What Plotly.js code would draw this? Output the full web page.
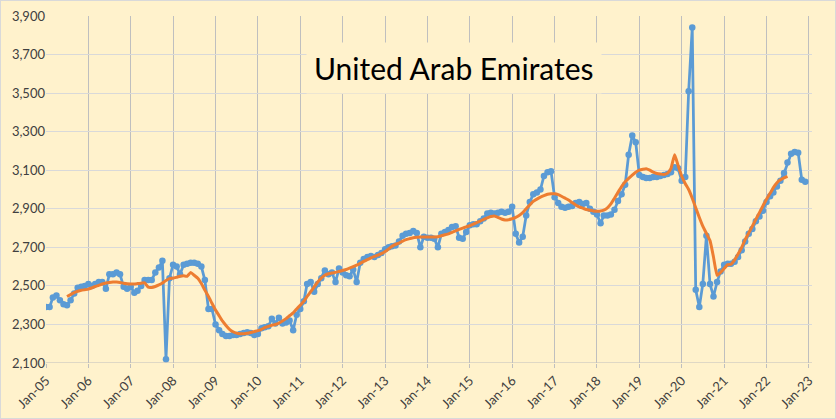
<!DOCTYPE html>
<html>
<head>
<meta charset="utf-8">
<script src="https://cdn.plot.ly/plotly-3.0.1.min.js"></script>
<style>
  html, body { margin: 0; padding: 0; background: #FFF2CC; }
  #wrap { position: relative; width: 836px; height: 419px; }
  #chart { width: 836px; height: 419px; }
  #frame { position: absolute; left: 0; top: 0; width: 836px; height: 419px; box-sizing: border-box; border: 1px solid #D9D9D9; pointer-events: none; }
</style>
</head>
<body>
<div id="wrap"><div id="chart"></div><div id="frame"></div></div>
<script>
// Monthly crude production, kb/d, Jan-2005 .. Dec-2022
const startYear = 2005;
const prod2005 = [2390, 2390, 2440, 2450, 2425, 2405, 2400, 2425, 2460, 2490, 2495, 2500];
const prod2006 = [2510, 2500, 2510, 2520, 2520, 2485, 2560, 2560, 2570, 2560, 2495, 2485];
const prod2007 = [2495, 2465, 2475, 2500, 2530, 2530, 2530, 2570, 2595, 2630, 2120, 2540];
const prod2008 = [2610, 2600, 2560, 2610, 2615, 2620, 2620, 2615, 2600, 2530, 2380, 2380];
const prod2009 = [2300, 2270, 2250, 2240, 2240, 2245, 2245, 2250, 2255, 2260, 2255, 2245];
const prod2010 = [2250, 2280, 2285, 2290, 2330, 2305, 2335, 2305, 2310, 2320, 2270, 2350];
const prod2011 = [2380, 2420, 2510, 2520, 2470, 2510, 2540, 2580, 2560, 2570, 2520, 2590];
const prod2012 = [2570, 2555, 2550, 2585, 2520, 2620, 2640, 2650, 2655, 2650, 2660, 2670];
const prod2013 = [2690, 2700, 2705, 2710, 2730, 2760, 2770, 2775, 2785, 2775, 2700, 2755];
const prod2014 = [2750, 2750, 2745, 2700, 2770, 2780, 2790, 2805, 2810, 2750, 2745, 2780];
const prod2015 = [2815, 2820, 2820, 2835, 2850, 2875, 2880, 2875, 2880, 2885, 2880, 2885];
const prod2016 = [2910, 2770, 2725, 2755, 2865, 2935, 2975, 2985, 3000, 3070, 3090, 3095];
const prod2017 = [2960, 2930, 2910, 2905, 2910, 2915, 2930, 2935, 2925, 2930, 2900, 2885];
const prod2018 = [2870, 2825, 2865, 2865, 2870, 2895, 2940, 2975, 3025, 3180, 3280, 3245];
const prod2019 = [3075, 3065, 3060, 3060, 3065, 3065, 3070, 3075, 3080, 3090, 3115, 3110];
const prod2020 = [3045, 3065, 3510, 3840, 2480, 2390, 2510, 2760, 2510, 2445, 2520, 2575];
const prod2021 = [2610, 2615, 2615, 2625, 2650, 2685, 2730, 2770, 2795, 2835, 2860, 2890];
const prod2022 = [2935, 2965, 2985, 3015, 3045, 3085, 3140, 3185, 3195, 3190, 3050, 3040];

// 12-month average line (orange), Jul-2005 .. Jul-2022
const avgStart = '2005-07-01';
const avgValues = [
  2445, 2455, 2465, 2472, 2477, 2480,
  2483, 2490, 2497, 2503, 2510, 2515, 2518, 2520, 2520, 2518, 2514, 2511,
  2510, 2510, 2512, 2514, 2516, 2493, 2492, 2497, 2505, 2515, 2528, 2538,
  2540, 2545, 2550, 2552, 2550, 2570, 2555, 2540, 2512, 2478, 2445, 2410,
  2375, 2345, 2318, 2295, 2275, 2262, 2255, 2252, 2252, 2254, 2258, 2263,
  2268, 2275, 2283, 2290, 2296, 2300, 2307, 2318, 2330, 2345, 2360, 2380,
  2400, 2420, 2445, 2470, 2495, 2520, 2540, 2555, 2563, 2567, 2570, 2575,
  2580, 2585, 2592, 2600, 2608, 2617, 2627, 2636, 2645, 2653, 2660, 2667,
  2678, 2692, 2705, 2715, 2722, 2732, 2740, 2745, 2750, 2752, 2753, 2753,
  2753, 2753, 2754, 2755, 2760, 2765, 2770, 2778, 2785, 2793, 2800, 2806,
  2812, 2820, 2828, 2836, 2845, 2853, 2860, 2863, 2855, 2847, 2842, 2843,
  2848, 2855, 2865, 2880, 2900, 2920, 2938, 2950, 2960, 2968, 2975, 2978,
  2978, 2973, 2965, 2955, 2945, 2932, 2920, 2910, 2903, 2896, 2892, 2889,
  2887, 2888, 2893, 2905, 2925, 2955, 2985, 3015, 3040, 3058, 3075, 3090,
  3100, 3105, 3108, 3100, 3090, 3083, 3080, 3078, 3085, 3110, 3180, 3125,
  3070, 3030, 3000, 2955, 2905, 2855, 2810, 2772, 2735, 2650, 2555, 2570,
  2590, 2610, 2612, 2635, 2665, 2700, 2740, 2775, 2810, 2845, 2880, 2915,
  2950, 2980, 3010, 3035, 3050, 3060, 3068
];

const yTicks = [2100, 2300, 2500, 2700, 2900, 3100, 3300, 3500, 3700, 3900];
const chartTitle = 'United Arab Emirates';

const production = [].concat(prod2005, prod2006, prod2007, prod2008, prod2009, prod2010,
  prod2011, prod2012, prod2013, prod2014, prod2015, prod2016, prod2017, prod2018,
  prod2019, prod2020, prod2021, prod2022);

function monthDates(startY, startM, n) {
  const out = [];
  for (let i = 0; i < n; i++) {
    const t = startM - 1 + i;
    const y = startY + Math.floor(t / 12);
    const m = (t % 12) + 1;
    out.push(y + '-' + String(m).padStart(2, '0') + '-01');
  }
  return out;
}
const prodDates = monthDates(startYear, 1, production.length);
const avgDates = monthDates(2005, 7, avgValues.length);

const traces = [
  {
    x: prodDates, y: production, type: 'scatter', mode: 'lines+markers',
    line: { color: '#5B9BD5', width: 2.75 },
    marker: { color: '#5B9BD5', size: 6.5 },
    hoverinfo: 'x+y', showlegend: false
  },
  {
    x: avgDates, y: avgValues, type: 'scatter', mode: 'lines',
    line: { color: '#ED7D31', width: 3, shape: 'spline', smoothing: 0.4 },
    hoverinfo: 'x+y', showlegend: false
  }
];

const layout = {
  width: 836, height: 419,
  margin: { l: 46, r: 24, t: 16, b: 56 },
  paper_bgcolor: '#FFF2CC',
  plot_bgcolor: '#FFF2CC',
  font: { family: 'Lato, "Open Sans", sans-serif', size: 13, color: '#404040' },
  xaxis: {
    type: 'date',
    range: ['2005-01-01', '2023-01-28'],
    tick0: '2005-01-01', dtick: 'M12',
    tickformat: '%b-%y',
    tickangle: -45,
    showgrid: true, gridcolor: '#BFBFBF', gridwidth: 1,
    ticks: 'outside', ticklen: 4, tickcolor: '#BFBFBF',
    showline: false, zeroline: false,
    tickfont: { family: 'Lato, sans-serif', size: 13, color: '#404040' }
  },
  yaxis: {
    range: [2100, 3900],
    tickvals: yTicks,
    tickformat: ',.0f',
    showgrid: true, gridcolor: '#D9D9D9', gridwidth: 1,
    showline: false, zeroline: false, ticks: '',
    tickfont: { family: 'Lato, sans-serif', size: 13, color: '#404040' }
  },
  shapes: [
    { type: 'line', xref: 'paper', yref: 'y', x0: 0, x1: 1, y0: 2100, y1: 2100,
      line: { color: '#BFBFBF', width: 1 } }
  ],
  annotations: [
    {
      text: chartTitle, xref: 'paper', yref: 'paper', x: 0.533, y: 0.85,
      xanchor: 'center', yanchor: 'middle', showarrow: false,
      font: { family: 'Lato, sans-serif', size: 30, color: '#000000' },
      bgcolor: '#FFF2CC', borderpad: 7
    }
  ]
};

Plotly.newPlot('chart', traces, layout, { staticPlot: true, displayModeBar: false });
</script>
</body>
</html>
